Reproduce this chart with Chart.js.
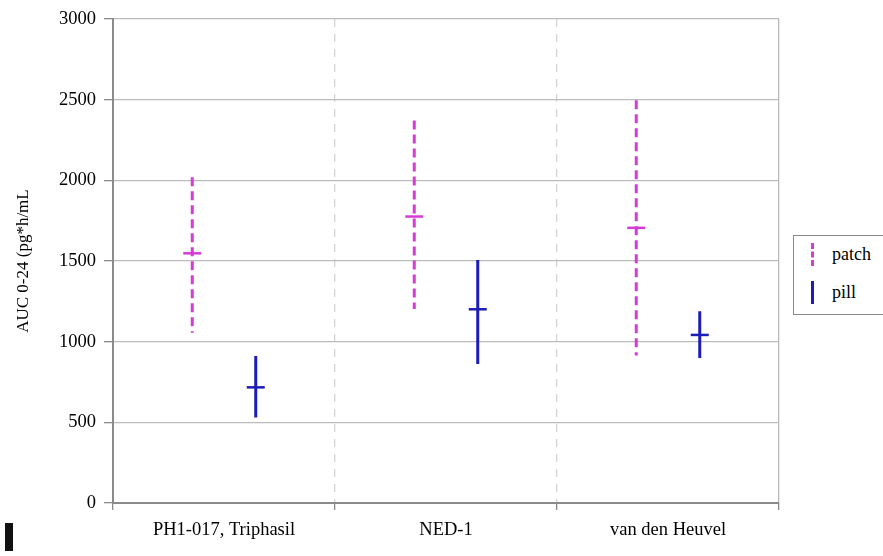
<!DOCTYPE html>
<html>
<head>
<meta charset="utf-8">
<script src="https://cdn.jsdelivr.net/npm/chart.js@4/dist/chart.umd.min.js"></script>
<style>
  html, body { margin: 0; padding: 0; background: #fff; }
  #wrap { position: relative; width: 883px; height: 556px; overflow: hidden; background: #fff; }
  #c { position: absolute; left: 0; top: 0; }
  #legend { position: absolute; left: 793px; top: 235px; width: 100px; height: 80px;
            border: 1.5px solid #8a8a8a; box-sizing: border-box; background: #fff;
            font-family: 'Liberation Serif', 'Times New Roman', serif; font-size: 18px; color: #000; }
  .item { position: absolute; left: 0; height: 24px; width: 100%; }
  .mk { position: absolute; left: 17px; top: 0; width: 0; height: 23px; }
  .lab { position: absolute; left: 38px; top: 0px; line-height: 22px; }
  #mark { position: absolute; left: 5px; top: 523px; width: 8px; height: 28px; background: #111; }
</style>
</head>
<body>
<div id="wrap">
  <canvas id="c" width="883" height="556"></canvas>
  <div id="legend">
    <div class="item" style="top:7px"><div class="mk" style="border-left:3px dashed #d63bd6"></div><div class="lab">patch</div></div>
    <div class="item" style="top:45px"><div class="mk" style="border-left:3px solid #1c1cb8"></div><div class="lab">pill</div></div>
  </div>
  <div id="mark"></div>
</div>
<script>
// ---- data ----
const categories = ['PH1-017, Triphasil', 'NED-1', 'van den Heuvel'];
const seriesNames = ['patch', 'pill'];
const patchMean = [1548, 1776, 1706];
const patchLow  = [1055, 1203, 915];
const patchHigh = [2020, 2372, 2497];
const pillMean  = [717, 1201, 1042];
const pillLow   = [530, 862, 899];
const pillHigh  = [912, 1507, 1189];
const yTickValues = [0, 500, 1000, 1500, 2000, 2500, 3000];

// ---- styling / layout ----
const PATCH_COLOR = '#d63bd6';
const PILL_COLOR = '#1c1cb8';
const OFFSET = 0.143;
const SERIF = "'Liberation Serif', 'Times New Roman', serif";

function rangePoints(low, high, shift) {
  const pts = [];
  categories.forEach((c, i) => {
    const x = i + 0.5 + shift;
    pts.push({ x: x, y: high[i] });
    pts.push({ x: x, y: low[i] });
    pts.push({ x: x, y: null });
  });
  return pts;
}
function meanPoints(mean, shift) {
  return categories.map((c, i) => ({ x: i + 0.5 + shift, y: mean[i] }));
}

const isBoundary = v => Math.abs(v - Math.round(v)) < 1e-9;

new Chart(document.getElementById('c'), {
  type: 'line',
  data: {
    datasets: [
      { label: seriesNames[0] + ' range', data: rangePoints(patchLow, patchHigh, -OFFSET),
        borderColor: PATCH_COLOR, borderWidth: 3, borderDash: [9, 5], pointRadius: 0,
        spanGaps: false, showLine: true, fill: false },
      { label: seriesNames[0], data: meanPoints(patchMean, -OFFSET), showLine: false,
        pointStyle: 'line', pointRadius: 9, pointBorderWidth: 2.5, borderColor: PATCH_COLOR,
        pointBorderColor: PATCH_COLOR },
      { label: seriesNames[1] + ' range', data: rangePoints(pillLow, pillHigh, OFFSET),
        borderColor: PILL_COLOR, borderWidth: 3, pointRadius: 0,
        spanGaps: false, showLine: true, fill: false },
      { label: seriesNames[1], data: meanPoints(pillMean, OFFSET), showLine: false,
        pointStyle: 'line', pointRadius: 9, pointBorderWidth: 2.5, borderColor: PILL_COLOR,
        pointBorderColor: PILL_COLOR }
    ]
  },
  options: {
    responsive: false,
    animation: false,
    layout: { padding: { left: 0, top: 15, right: 104, bottom: 0 } },
    plugins: { legend: { display: false }, tooltip: { enabled: false } },
    scales: {
      x: {
        type: 'linear', min: 0, max: categories.length,
        afterBuildTicks: s => {
          const t = [];
          for (let i = 0; i <= categories.length; i++) {
            t.push({ value: i });
            if (i < categories.length) t.push({ value: i + 0.5 });
          }
          s.ticks = t;
        },
        afterFit: s => { s.height = 53; },
        ticks: {
          autoSkip: false, maxRotation: 0, color: '#000', padding: 9,
          font: { family: SERIF, size: 18.5 },
          callback: v => isBoundary(v) ? '' : categories[Math.floor(v)]
        },
        grid: {
          tickLength: 7,
          color: c => {
            const v = c.tick ? c.tick.value : 0;
            if (!isBoundary(v)) return 'rgba(0,0,0,0)';
            if (v === 0) return '#8a8a8a';
            if (v === categories.length) return '#b8b8b8';
            return '#d4d4d4';
          },
          tickColor: c => {
            const v = c.tick ? c.tick.value : 0;
            return isBoundary(v) ? '#8a8a8a' : 'rgba(0,0,0,0)';
          },
          lineWidth: 1.3
        },
        border: {
          color: '#8a8a8a', width: 2,
          dash: c => {
            const v = c.tick ? c.tick.value : 0;
            return (isBoundary(v) && v > 0 && v < categories.length) ? [8, 7] : [];
          }
        }
      },
      y: {
        min: 0, max: 3000,
        afterBuildTicks: s => { s.ticks = yTickValues.map(v => ({ value: v })); },
        afterFit: s => { s.width = 113; },
        title: { display: true, text: 'AUC 0-24 (pg*h/mL', color: '#000',
                 font: { family: SERIF, size: 17 }, padding: { top: 13, bottom: 0 } },
        ticks: { color: '#000', padding: 8, font: { family: SERIF, size: 18.5 },
                 callback: v => String(v) },
        grid: { color: '#bcbcbc', lineWidth: 1.3, tickLength: 9, tickColor: '#8a8a8a' },
        border: { color: '#8a8a8a', width: 2 }
      }
    }
  }
});
</script>
</body>
</html>
